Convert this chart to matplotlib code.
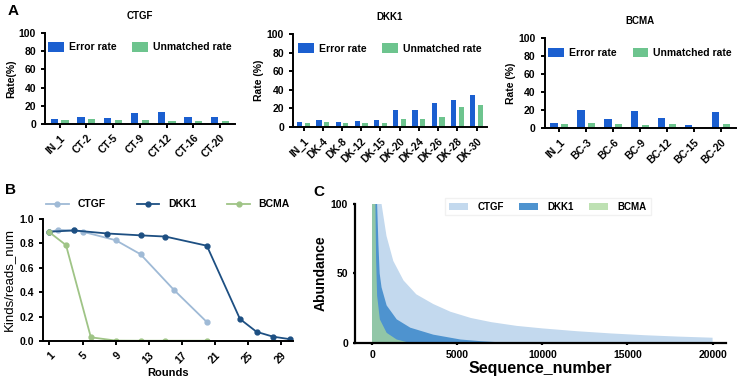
import numpy as np
import matplotlib
matplotlib.use("Agg")
import matplotlib.pyplot as plt

plt.rcParams['font.family'] = ['Liberation Sans', 'DejaVu Sans']

# ---- panel A data ----
ctgf_labels = ['IN_1', 'CT-2', 'CT-5', 'CT-9', 'CT-12', 'CT-16', 'CT-20']
ctgf_error = [5.8, 8.0, 6.2, 12.4, 13.5, 7.6, 7.3]
ctgf_unmatched = [4.7, 5.5, 4.0, 4.0, 3.3, 3.6, 3.3]

dkk1_labels = ['IN_1', 'DK-4', 'DK-8', 'DK-12', 'DK-15', 'DK-20', 'DK-24', 'DK-26', 'DK-28', 'DK-30']
dkk1_error = [5.4, 7.9, 5.4, 6.1, 7.6, 18.0, 18.7, 26.3, 28.8, 34.2]
dkk1_unmatched = [4.3, 5.0, 4.0, 4.7, 4.7, 9.0, 8.3, 10.8, 21.2, 24.1]

bcma_labels = ['IN_1', 'BC-3', 'BC-6', 'BC-9', 'BC-12', 'BC-15', 'BC-20']
bcma_error = [5.6, 19.8, 10.0, 18.7, 10.8, 3.7, 17.5]
bcma_unmatched = [4.1, 5.2, 4.5, 3.4, 4.5, 0.0, 4.5]

# ---- panel B data ----
ctgf_rounds = [1, 2, 4, 5, 9, 12, 16, 20]
ctgf_ratio = [0.89, 0.91, 0.905, 0.895, 0.825, 0.71, 0.42, 0.155]
dkk1_rounds = [1, 4, 8, 12, 15, 20, 24, 26, 28, 30]
dkk1_ratio = [0.895, 0.905, 0.88, 0.865, 0.855, 0.78, 0.18, 0.075, 0.035, 0.015]
bcma_rounds = [1, 3, 6, 9, 12, 15, 20]
bcma_ratio = [0.89, 0.785, 0.03, 0.003, 0.002, 0.002, 0.002]

# ---- panel C data ----
ctgf_seq = [0, 150, 350, 560, 850, 1250, 1850, 2600, 3600, 4600, 5800, 7000,
            8500, 10000, 12000, 14000, 16000, 18000, 20000]
ctgf_abund = [400, 250, 150, 100, 77, 59, 45, 35, 28, 22.5, 18, 15,
              12.3, 10.5, 8.5, 6.9, 5.6, 4.6, 3.8]
dkk1_seq = [0, 150, 300, 380, 450, 560, 860, 1450, 2250, 3600, 5200, 6400, 7500, 8600]
dkk1_abund = [300, 150, 100, 70, 50, 40, 27, 17, 11, 6, 2.5, 1.3, 0.5, 0]
bcma_seq = [0, 120, 200, 240, 300, 460, 860, 1450, 2250]
bcma_abund = [300, 140, 100, 60, 34, 17, 7.3, 2.5, 0]

err_color = '#1b5fd0'
unm_color = '#6dc48e'


def style_axis(ax, lw=1.4):
    for s in ['top', 'right']:
        ax.spines[s].set_visible(False)
    for s in ['left', 'bottom']:
        ax.spines[s].set_linewidth(lw)
    ax.tick_params(width=lw, length=3)


def bar_panel(rect, labels, err, unm, title, ylabel):
    ax = fig.add_axes(rect)
    x = np.arange(len(labels))
    ax.bar(x - 0.2, err, width=0.27, color=err_color, label='Error rate')
    ax.bar(x + 0.2, unm, width=0.27, color=unm_color, label='Unmatched rate')
    ax.set_xlim(-0.55, len(labels) - 0.45)
    ax.set_ylim(0, 100)
    ax.set_yticks([0, 20, 40, 60, 80, 100])
    ax.set_xticks(x)
    ax.set_xticklabels(labels, rotation=45, ha='right', rotation_mode='anchor',
                       fontsize=7.5, fontweight='bold')
    for t in ax.get_yticklabels():
        t.set_fontweight('bold')
        t.set_fontsize(7.5)
    ax.set_ylabel(ylabel, fontsize=7.5, fontweight='bold', labelpad=2)
    ax.set_title(title, fontsize=7, fontweight='bold', pad=10)
    ax.legend(loc='upper center', bbox_to_anchor=(0.5, 1.0), ncol=2, frameon=False,
              handlelength=1.5, handleheight=1.0, columnspacing=1.5,
              handletextpad=0.5, prop={'weight': 'bold', 'size': 7.5})
    style_axis(ax)
    return ax


fig = plt.figure(figsize=(7.38, 3.78), dpi=100)

bar_panel([0.061, 0.672, 0.257, 0.241], ctgf_labels, ctgf_error, ctgf_unmatched, 'CTGF', 'Rate(%)')
bar_panel([0.397, 0.664, 0.263, 0.246], dkk1_labels, dkk1_error, dkk1_unmatched, 'DKK1', 'Rate (%)')
bar_panel([0.738, 0.661, 0.259, 0.238], bcma_labels, bcma_error, bcma_unmatched, 'BCMA', 'Rate (%)')

# ---- panel B ----
axb = fig.add_axes([0.058, 0.098, 0.339, 0.323])
axb.plot(ctgf_rounds, ctgf_ratio, '-o', color='#9fbad6', lw=1.3, ms=3.5, label='CTGF')
axb.plot(dkk1_rounds, dkk1_ratio, '-o', color='#1d4f82', lw=1.3, ms=3.5, label='DKK1')
axb.plot(bcma_rounds, bcma_ratio, '-o', color='#9fc486', lw=1.3, ms=3.5, label='BCMA')
axb.set_xlim(0.2, 30.4)
axb.set_ylim(0, 1.0)
axb.set_xticks([1, 5, 9, 13, 17, 21, 25, 29])
axb.set_yticks([0.0, 0.2, 0.4, 0.6, 0.8, 1.0])
axb.set_yticklabels(['0.0', '0.2', '0.4', '0.6', '0.8', '1.0'], fontsize=7.5, fontweight='bold')
axb.set_xticklabels([1, 5, 9, 13, 17, 21, 25, 29], rotation=45, ha='right',
                    rotation_mode='anchor', fontsize=7.5, fontweight='bold')
axb.set_xlabel('Rounds', fontsize=8, fontweight='bold', labelpad=2)
axb.set_ylabel('Kinds/reads_num', fontsize=9.5, labelpad=3)
axb.legend(loc='lower center', bbox_to_anchor=(0.5, 1.0), ncol=3, frameon=False,
           handlelength=2.2, columnspacing=3.0, prop={'weight': 'bold', 'size': 7.5})
style_axis(axb)

# ---- panel C ----
axc = fig.add_axes([0.481, 0.0926, 0.503, 0.368])
axc.fill_between(ctgf_seq, ctgf_abund, color='#c3d9ee', lw=0, label='CTGF')
axc.fill_between(dkk1_seq, dkk1_abund, color='#4e93cf', lw=0, label='DKK1')
axc.fill_between(bcma_seq, bcma_abund, color='#a8d89a', alpha=0.75, lw=0, label='BCMA')
axc.set_xlim(-1000, 20800)
axc.set_ylim(0, 100)
axc.set_yticks([0, 50, 100])
axc.set_xticks([0, 5000, 10000, 15000, 20000])
for t in axc.get_xticklabels() + axc.get_yticklabels():
    t.set_fontweight('bold')
    t.set_fontsize(7.5)
axc.set_xlabel('Sequence_number', fontsize=11.5, fontweight='bold', labelpad=1)
axc.set_ylabel('Abundance', fontsize=10, fontweight='bold', labelpad=2)
axc.legend(loc='upper center', bbox_to_anchor=(0.52, 1.08), ncol=3, frameon=True,
           fancybox=False, edgecolor='#eeeeee', handlelength=1.9, columnspacing=1.6,
           handletextpad=1.0, prop={'weight': 'bold', 'size': 7})
style_axis(axc, lw=1.6)
axc.tick_params(length=1.5)

# panel letters
fig.text(0.011, 0.99, 'A', fontsize=11, fontweight='bold', va='top')
fig.text(0.007, 0.515, 'B', fontsize=11, fontweight='bold', va='top')
fig.text(0.424, 0.51, 'C', fontsize=11, fontweight='bold', va='top')

fig.savefig('out.png', dpi=100)
